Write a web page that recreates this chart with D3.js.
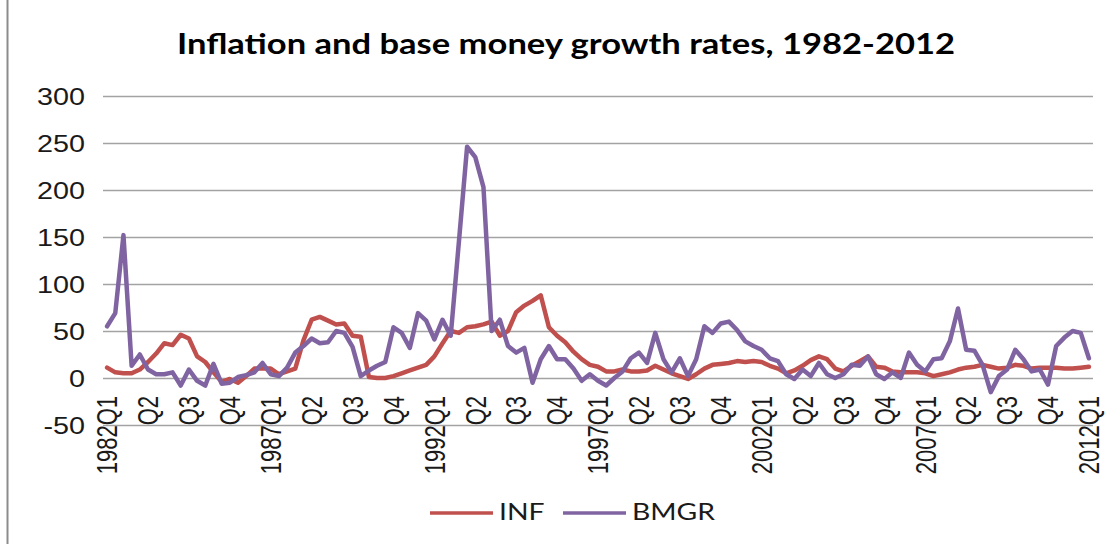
<!DOCTYPE html>
<html>
<head>
<meta charset="utf-8">
<script src="https://cdn.jsdelivr.net/npm/d3@7/dist/d3.min.js"></script>
<style>
  body { margin: 0; background: #fff; }
  svg { display: block; }
</style>
</head>
<body>
<div id="chart"></div>
<script>
// Quarterly categories, 1982Q1 .. 2012Q1
const quarters = [];
for (let yr = 1982; yr <= 2012; yr++) {
    for (let q = 1; q <= 4; q++) {
        if (yr === 2012 && q > 1) break;
        quarters.push(yr + "Q" + q);
    }
}

// Labels shown on the category axis (every 5th quarter)
const tickLabels = ["1982Q1", "Q2", "Q3", "Q4", "1987Q1", "Q2", "Q3", "Q4",
    "1992Q1", "Q2", "Q3", "Q4", "1997Q1", "Q2", "Q3", "Q4",
    "2002Q1", "Q2", "Q3", "Q4", "2007Q1", "Q2", "Q3", "Q4", "2012Q1"];

const yTicks = [-50, 0, 50, 100, 150, 200, 250, 300];

const seriesNames = ["INF", "BMGR"];
const seriesColors = ["#c0504d", "#8064a2"];

// Inflation
const inf = [
    11, 6, 5, 5, 9, 17, 26, 37, 35, 46,
    42, 23, 17, 6, -4, -1, -5, 2, 10, 10,
    10, 4, 7, 10, 40, 62, 65, 61, 57, 58,
    45, 44, 1, 0, 0, 2, 5, 8, 11, 14,
    23, 37, 50, 48, 54, 55, 57, 60, 45, 50,
    70, 77, 82, 88, 54, 45, 38, 28, 20, 14,
    12, 7, 7, 9, 7, 7, 8, 13, 9, 5,
    2, -1, 4, 10, 14, 15, 16, 18, 17, 18,
    17, 13, 10, 5, 8, 13, 19, 23, 20, 10,
    7, 13, 18, 23, 12, 11, 7, 6, 6, 6,
    5, 2, 4, 6, 9, 11, 12, 14, 12, 10,
    11, 14, 13, 10, 11, 11, 11, 10, 10, 11,
    12
];

// Base money growth rate
const bmgr = [
    55, 69, 152, 13, 25, 9, 4, 4, 6, -8,
    9, -3, -8, 15, -6, -5, 1, 3, 6, 16,
    4, 2, 11, 27, 34, 42, 37, 38, 50, 48,
    33, 2, 8, 13, 17, 54, 48, 32, 69, 61,
    41, 62, 45, 145, 246, 235, 203, 50, 62, 34,
    27, 32, -5, 20, 34, 20, 20, 10, -3, 4,
    -3, -8, 0, 7, 21, 27, 16, 48, 20, 6,
    21, 2, 20, 55, 48, 58, 60, 51, 39, 34,
    30, 21, 18, 4, -1, 9, 2, 16, 4, 0,
    4, 14, 13, 23, 4, -1, 6, 0, 27, 14,
    7, 20, 21, 39, 74, 30, 29, 14, -15, 2,
    9, 30, 20, 7, 9, -7, 34, 43, 50, 48,
    21
];

const size = { width: 1112, height: 544 };
const plot = { left: 103, right: 1093, top: 96, bottom: 425 };
const numFont = "'Liberation Sans', Arial, sans-serif";
const textFont = "Lato, 'Open Sans', sans-serif";

const svg = d3.select("#chart").append("svg")
    .attr("width", size.width)
    .attr("height", size.height);

svg.append("rect")
    .attr("width", size.width)
    .attr("height", size.height)
    .attr("fill", "#fff");

// chart border (only the left edge shows in the picture)
svg.append("line")
    .attr("x1", 7.5).attr("x2", 7.5)
    .attr("y1", 0).attr("y2", size.height)
    .attr("stroke", "#8c8c8c")
    .attr("stroke-width", 2);

const x = d3.scaleBand()
    .domain(quarters)
    .range([plot.left, plot.right]);
const cx = d => x(d) + x.bandwidth() / 2;

const y = d3.scaleLinear()
    .domain([-50, 300])
    .range([plot.bottom, plot.top]);

// Title
svg.append("text")
    .attr("x", 566)
    .attr("y", 54)
    .attr("text-anchor", "middle")
    .attr("font-family", textFont)
    .attr("font-weight", "bold")
    .attr("font-size", 28)
    .attr("textLength", 778)
    .attr("lengthAdjust", "spacingAndGlyphs")
    .attr("fill", "#000")
    .text("Inflation and base money growth rates, 1982-2012");

// Value axis with gridlines
const yAxis = svg.append("g")
    .attr("transform", `translate(${plot.left},0)`)
    .call(d3.axisLeft(y)
        .tickValues(yTicks)
        .tickSize(-(plot.right - plot.left))
        .tickFormat(d => String(d)));
yAxis.select(".domain").remove();
yAxis.selectAll(".tick line")
    .attr("stroke", "#a3a3a3")
    .attr("stroke-width", 1.5);
yAxis.selectAll(".tick text")
    .attr("x", 0)
    .attr("dy", "0.36em")
    .attr("transform", "translate(-18,0) scale(1.25,1)")
    .attr("font-family", numFont)
    .attr("font-size", 23)
    .attr("fill", "#1a1a1a");

// Category axis labels, sitting under the zero line
const xAxis = svg.append("g")
    .attr("transform", `translate(0,${y(0)})`)
    .call(d3.axisBottom(x)
        .tickValues(quarters.filter((d, i) => i % 5 === 0))
        .tickSize(0)
        .tickFormat(d => tickLabels[quarters.indexOf(d) / 5]));
xAxis.select(".domain").remove();
xAxis.selectAll(".tick text")
    .attr("x", 0)
    .attr("y", 0)
    .attr("dy", "0.36em")
    .attr("text-anchor", "end")
    .attr("transform", "translate(0,18) scale(1.3,1) rotate(-90)")
    .attr("font-family", numFont)
    .attr("font-size", 22)
    .attr("fill", "#1a1a1a");

// Lines
const line = d3.line()
    .x((d, i) => cx(quarters[i]))
    .y(d => y(d));

[inf, bmgr].forEach((values, k) => {
    svg.append("path")
        .datum(values)
        .attr("d", line)
        .attr("fill", "none")
        .attr("stroke", seriesColors[k])
        .attr("stroke-width", 4.5)
        .attr("stroke-linejoin", "round")
        .attr("stroke-linecap", "round");
});

// Legend
const legendX = [430, 563];
const legend = svg.append("g");
seriesNames.forEach((name, k) => {
    legend.append("line")
        .attr("x1", legendX[k]).attr("x2", legendX[k] + 63)
        .attr("y1", 513).attr("y2", 513)
        .attr("stroke", seriesColors[k])
        .attr("stroke-width", 3.5);
    legend.append("text")
        .attr("transform", `translate(${legendX[k] + 69},520) scale(1.18,1)`)
        .attr("font-family", textFont)
        .attr("font-size", 24)
        .attr("fill", "#1a1a1a")
        .text(name);
});
</script>
</body>
</html>
